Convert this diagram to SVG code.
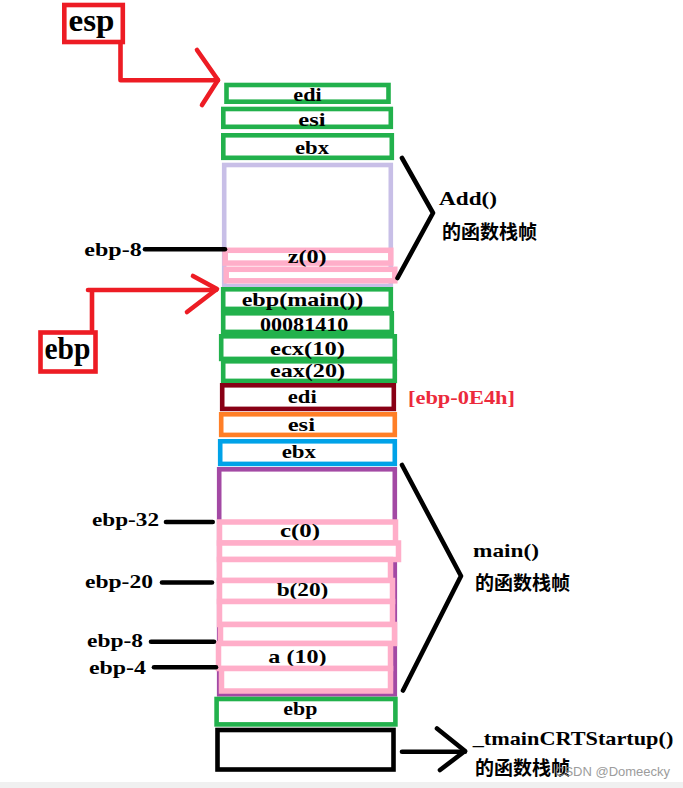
<svg xmlns="http://www.w3.org/2000/svg" width="683" height="788" viewBox="0 0 683 788">
<style>
.b{fill:#fff;stroke-width:4.6}
.gr{stroke:#22b14c}.pk{stroke:#ffaec9;stroke-width:5.5}.lv{stroke:#c8bfe7}.pu{stroke:#a349a4}
.dr{stroke:#880015}.or{stroke:#ff7f27}.bl{stroke:#00a2e8}.bk{stroke:#000}.rd{stroke:#ed1c24;fill:#fff;stroke-width:4.6}
.t{font-family:"Liberation Serif","Times New Roman",serif;font-weight:bold;font-size:19px;fill:#000}
.s{font-size:18px}
.big{font-size:31px}
.cjk{font-family:"Noto Sans CJK SC","Noto Sans CJK JP",sans-serif;font-weight:bold;font-size:19px;fill:#000}
.ln{fill:none;stroke:#000;stroke-width:4.6;stroke-linecap:round;stroke-linejoin:round}
.ra{fill:none;stroke:#ed1c24;stroke-width:4.6;stroke-linecap:round;stroke-linejoin:round}
</style>
<rect width="683" height="788" fill="#fff"/>
<rect x="0" y="782" width="683" height="6" fill="#f0f0f0"/>

<g id="esp-label"><rect class="rd" x="64.3" y="5" width="58.5" height="37"/><text class="t big" x="68.5" y="31" textLength="46" lengthAdjust="spacingAndGlyphs">esp</text></g>
<g id="ebp-label"><rect class="rd" x="40.5" y="332.5" width="55" height="39"/><text class="t big" x="44.5" y="359" textLength="46" lengthAdjust="spacingAndGlyphs">ebp</text></g>

<g id="add-frame"><rect class="b lv" x="224.2" y="165" width="166.6" height="121"/></g>
<g id="add-edi"><rect class="b gr" x="226.5" y="85" width="162" height="16.7"/><text class="t" x="293.3" y="101" textLength="28.3" lengthAdjust="spacingAndGlyphs">edi</text></g>
<g id="add-esi"><rect class="b gr" x="223.3" y="109" width="167.5" height="17.8"/><text class="t" x="298.3" y="126" textLength="27.3" lengthAdjust="spacingAndGlyphs">esi</text></g>
<g id="add-ebx"><rect class="b gr" x="223.3" y="135.3" width="168.5" height="22.5"/><text class="t" x="295" y="154" textLength="34" lengthAdjust="spacingAndGlyphs">ebx</text></g>
<g id="add-z"><rect class="b pk" x="225.2" y="250.3" width="165.6" height="12.8"/><text class="t" x="287.7" y="263" textLength="39" lengthAdjust="spacingAndGlyphs">z(0)</text></g>
<g id="add-blank"><rect class="b pk" x="226.2" y="269.3" width="168.6" height="11.5"/></g>

<g id="main-ebp"><rect class="b gr" x="223.2" y="289.3" width="167.6" height="19.6"/><text class="t" x="241.7" y="306" textLength="121.7" lengthAdjust="spacingAndGlyphs">ebp(main())</text></g>
<g id="ret-addr"><rect class="b gr" x="223.2" y="313.3" width="168.6" height="18.6"/><text class="t" x="260" y="331" textLength="88.3" lengthAdjust="spacingAndGlyphs">00081410</text></g>
<g id="ecx"><rect class="b gr" x="221.2" y="336.3" width="173.6" height="22.6"/><text class="t" x="270" y="355" textLength="75" lengthAdjust="spacingAndGlyphs">ecx(10)</text></g>
<g id="eax"><rect class="b gr" x="223.2" y="361.3" width="171.6" height="19.6"/><text class="t" x="270" y="377" textLength="75" lengthAdjust="spacingAndGlyphs">eax(20)</text></g>
<g id="main-edi"><rect class="b dr" x="222.2" y="385.3" width="171.6" height="23.6"/><text class="t" x="287.7" y="402.7" textLength="29" lengthAdjust="spacingAndGlyphs">edi</text></g>
<g id="main-esi"><rect class="b or" x="221.2" y="414.3" width="173.6" height="20.6"/><text class="t" x="287.7" y="430.7" textLength="27.3" lengthAdjust="spacingAndGlyphs">esi</text></g>
<g id="main-ebx"><rect class="b bl" x="220.2" y="441.3" width="174.6" height="22.6"/><text class="t" x="281.7" y="458.3" textLength="34.3" lengthAdjust="spacingAndGlyphs">ebx</text></g>
<g id="esi-note"><text class="t" x="408" y="404" textLength="107" lengthAdjust="spacingAndGlyphs" style="fill:#ec2a3c">[ebp-0E4h]</text></g>

<g id="main-frame"><rect class="b pu" x="219.2" y="469.3" width="175.6" height="225"/></g>
<g id="main-c"><rect class="b pk" x="219.5" y="522" width="176" height="21"/><text class="t" x="280" y="536.5" textLength="40" lengthAdjust="spacingAndGlyphs">c(0)</text></g>
<g id="main-s1"><rect class="b pk" x="219.5" y="543" width="179" height="16.5"/></g>
<g id="main-s2"><rect class="b pk" x="219.5" y="559.5" width="171" height="21"/></g>
<g id="main-b"><rect class="b pk" x="219.5" y="580.5" width="173" height="21"/><text class="t" x="276.7" y="596" textLength="51.7" lengthAdjust="spacingAndGlyphs">b(20)</text></g>
<g id="main-s3"><rect class="b pk" x="219.5" y="601.5" width="173" height="23"/></g>
<g id="main-s4"><rect class="b pk" x="220.5" y="624.5" width="174" height="19"/></g>
<g id="main-a"><rect class="b pk" x="218.5" y="643.5" width="172" height="25"/><text class="t" x="268.3" y="663" textLength="58.3" lengthAdjust="spacingAndGlyphs">a (10)</text></g>
<g id="main-s5"><rect class="b pk" x="221.5" y="668.5" width="169" height="22.5"/></g>

<g id="crt-ebp"><rect class="b gr" x="216.6" y="699" width="178.8" height="25.4"/><text class="t" x="283.3" y="715" textLength="34" lengthAdjust="spacingAndGlyphs">ebp</text></g>
<g id="crt-frame"><rect class="b bk" x="217.5" y="730" width="176" height="39.5"/></g>

<g id="lbl-add-ebp8"><text class="t s" x="84.3" y="256" textLength="57.4" lengthAdjust="spacingAndGlyphs">ebp-8</text></g>
<g id="lbl-ebp32"><text class="t s" x="92" y="526" textLength="67" lengthAdjust="spacingAndGlyphs">ebp-32</text></g>
<g id="lbl-ebp20"><text class="t s" x="85" y="588" textLength="68" lengthAdjust="spacingAndGlyphs">ebp-20</text></g>
<g id="lbl-ebp8"><text class="t s" x="87" y="647" textLength="56" lengthAdjust="spacingAndGlyphs">ebp-8</text></g>
<g id="lbl-ebp4"><text class="t s" x="89" y="674" textLength="57" lengthAdjust="spacingAndGlyphs">ebp-4</text></g>

<g id="lbl-add"><text class="t" x="439" y="205" textLength="58" lengthAdjust="spacingAndGlyphs">Add()</text><text class="cjk" x="442" y="238.5">的函数栈帧</text></g>
<g id="lbl-main"><text class="t" x="473" y="557" textLength="66" lengthAdjust="spacingAndGlyphs">main()</text><text class="cjk" x="475" y="590">的函数栈帧</text></g>
<g id="lbl-crt"><text class="t" x="472.7" y="745" textLength="200.6" lengthAdjust="spacingAndGlyphs">_tmainCRTStartup()</text><text class="cjk" x="475" y="775">的函数栈帧</text></g>

<g id="connectors">
<polyline class="ra" points="120.5,44 120.5,80.3 218,80.3"/>
<polyline class="ra" points="197,50 218,80 202,105"/>
<polyline class="ra" points="92,330 92,290 88,290 92,290 216,290"/>
<polyline class="ra" points="193,276 217,289 187,312"/>
<line class="ln" x1="145" y1="249.2" x2="225" y2="249.2"/>
<line class="ln" x1="166" y1="522" x2="212.7" y2="522"/>
<line class="ln" x1="162" y1="582.5" x2="212" y2="582.5"/>
<line class="ln" x1="151" y1="641.7" x2="214" y2="641.7"/>
<line class="ln" x1="154" y1="667.3" x2="216" y2="667.3"/>
<polyline class="ln" points="402,158 433,213 397.5,278"/>
<polyline class="ln" points="402,465 461,576 403,690.5"/>
<line class="ln" x1="402" y1="751.7" x2="465" y2="751.7"/>
<polyline class="ln" points="437,728.5 465,751 440,770"/>
</g>
<text x="555" y="776" style="font-family:'Liberation Sans',Arial,sans-serif;font-size:13px;fill:#8c8c8c;opacity:.85">CSDN @Domeecky</text>
</svg>
